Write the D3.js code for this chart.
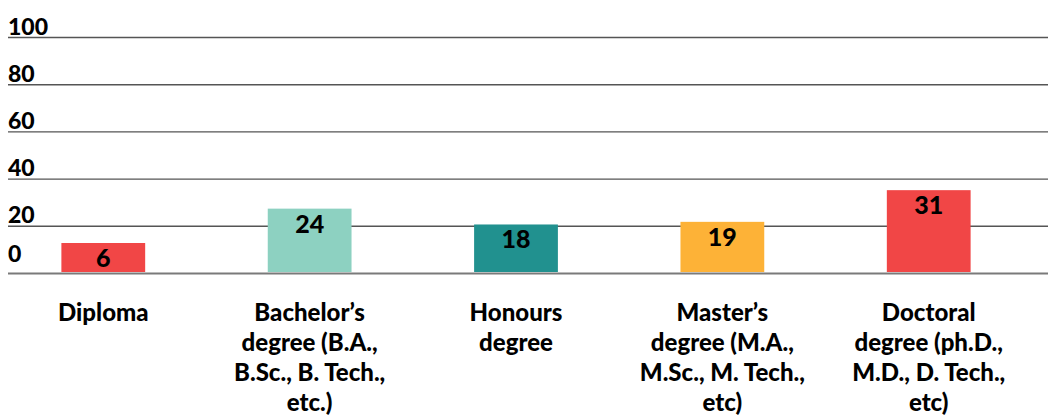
<!DOCTYPE html>
<html>
<head>
<meta charset="utf-8">
<script src="https://cdn.jsdelivr.net/npm/d3@7"></script>
<style>
  html, body { margin: 0; padding: 0; background: #fff; }
  svg { display: block; }
  text { font-family: Lato, "Open Sans", sans-serif; font-weight: 900; fill: #000; }
</style>
</head>
<body>
<svg id="chart" width="1048" height="420"></svg>
<script>
const categories = [
  ["Diploma"],
  ["Bachelor\u2019s", "degree (B.A.,", "B.Sc., B. Tech.,", "etc.)"],
  ["Honours", "degree"],
  ["Master\u2019s", "degree (M.A.,", "M.Sc., M. Tech.,", "etc)"],
  ["Doctoral", "degree (ph.D.,", "M.D., D. Tech.,", "etc)"]
];
const values = [6, 24, 18, 19, 31];
const colors = ["#F14646", "#8DD1C1", "#21918F", "#FDB237", "#F14646"];
const yTicks = [0, 20, 40, 60, 80, 100];

const W = 1048, H = 420;
const svg = d3.select("#chart");

const x = d3.scaleBand()
  .domain(d3.range(values.length))
  .range([0, 1032])
  .paddingInner(0.594)
  .paddingOuter(0.2975);

// scale for gridlines / tick labels
const yGrid = d3.scaleLinear().domain([0, 100]).range([273.5, 37.5]);
// scale for bar heights
const yBar = d3.scaleLinear().domain([0, 100]).range([272, 8]);
const minBarH = 29;

// gridlines
svg.append("g").selectAll("line")
  .data(yTicks)
  .join("line")
  .attr("x1", 8).attr("x2", W)
  .attr("y1", d => yGrid(d)).attr("y2", d => yGrid(d))
  .attr("stroke", d => d === 0 ? "#7a7a7a" : "#555")
  .attr("stroke-width", d => d === 0 ? 2 : 1.4);

// tick labels
svg.append("g").selectAll("text")
  .data(yTicks)
  .join("text")
  .attr("x", 8)
  .attr("y", d => yGrid(d) - (d === 0 ? 12 : 3))
  .attr("font-size", 23)
  .text(d => d);

// bars
const barTop = (v) => Math.min(yBar(v), yBar(0) - minBarH);
svg.append("g").selectAll("rect")
  .data(values)
  .join("rect")
  .attr("x", (d, i) => x(i))
  .attr("width", x.bandwidth())
  .attr("y", d => barTop(d))
  .attr("height", d => yBar(0) - barTop(d))
  .attr("fill", (d, i) => colors[i]);

// value labels
svg.append("g").selectAll("text")
  .data(values)
  .join("text")
  .attr("x", (d, i) => x(i) + x.bandwidth() / 2)
  .attr("y", d => barTop(d) + 24)
  .attr("text-anchor", "middle")
  .attr("font-size", 25)
  .text(d => d);

// category labels
const cat = svg.append("g").selectAll("text")
  .data(categories)
  .join("text")
  .attr("x", (d, i) => x(i) + x.bandwidth() / 2)
  .attr("y", 321)
  .attr("text-anchor", "middle")
  .attr("font-size", 24);
cat.selectAll("tspan")
  .data(d => d)
  .join("tspan")
  .attr("x", function () { return d3.select(this.parentNode).attr("x"); })
  .attr("dy", (d, j) => j === 0 ? 0 : 30)
  .text(d => d);
</script>
</body>
</html>
